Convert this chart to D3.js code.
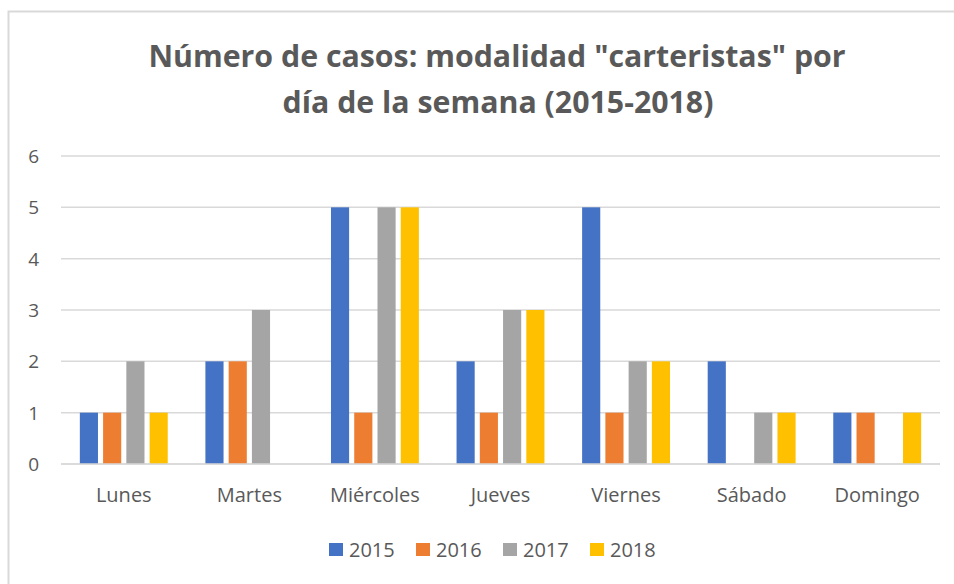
<!DOCTYPE html>
<html>
<head>
<meta charset="utf-8">
<script src="https://cdn.jsdelivr.net/npm/d3@7"></script>
<style>
  body { margin: 0; background: #fff; }
  text { font-family: "Open Sans", sans-serif; fill: #595959; }
</style>
</head>
<body>
<div id="chart"></div>
<script>
var days = ["Lunes", "Martes", "Miércoles", "Jueves", "Viernes", "Sábado", "Domingo"];
var years = ["2015", "2016", "2017", "2018"];
var v2015 = [1, 2, 5, 2, 5, 2, 1];
var v2016 = [1, 2, 1, 1, 1, 0, 1];
var v2017 = [2, 3, 5, 3, 2, 1, 0];
var v2018 = [1, 0, 5, 3, 2, 1, 1];
var yTicks = [0, 1, 2, 3, 4, 5, 6];
var colors = ["#4472C4", "#ED7D31", "#A5A5A5", "#FFC000"];

var series = [v2015, v2016, v2017, v2018];

var width = 954, height = 584;
var margin = { top: 156, right: 14, bottom: 120, left: 61 };

var svg = d3.select("#chart").append("svg")
  .attr("width", width)
  .attr("height", height);

// chart frame
svg.append("rect")
  .attr("x", 8.5).attr("y", 11.5)
  .attr("width", 960).attr("height", 600)
  .attr("fill", "#fff")
  .attr("stroke", "#d9d9d9")
  .attr("stroke-width", 2);

// title, two lines
var title = svg.append("text")
  .attr("text-anchor", "middle")
  .attr("font-size", 30.3)
  .attr("font-weight", 700);
title.append("tspan").attr("x", 497).attr("y", 67)
  .text('Número de casos: modalidad "carteristas" por');
title.append("tspan").attr("x", 498).attr("y", 113)
  .text("día de la semana (2015-2018)");

var x0 = d3.scaleBand()
  .domain(days)
  .range([margin.left, width - margin.right])
  .paddingInner(0.3)
  .paddingOuter(0.15);

var x1 = d3.scaleBand()
  .domain(years)
  .range([0, x0.bandwidth()])
  .paddingInner(0.22);

var y = d3.scaleLinear()
  .domain([0, 6])
  .range([height - margin.bottom, margin.top]);

// gridlines
svg.append("g")
  .selectAll("line")
  .data(yTicks)
  .join("line")
  .attr("x1", margin.left).attr("x2", width - margin.right)
  .attr("y1", function (d) { return y(d); })
  .attr("y2", function (d) { return y(d); })
  .attr("stroke", "#d9d9d9")
  .attr("stroke-width", 1.5);

// y labels
svg.append("g")
  .selectAll("text")
  .data(yTicks)
  .join("text")
  .attr("x", 39)
  .attr("y", function (d) { return y(d) + 7; })
  .attr("text-anchor", "end")
  .attr("font-size", 19)
  .text(function (d) { return d; });

// bars
var groups = svg.append("g")
  .selectAll("g")
  .data(days)
  .join("g")
  .attr("transform", function (d) { return "translate(" + x0(d) + ",0)"; });

groups.selectAll("rect")
  .data(function (d, i) {
    return years.map(function (yr, j) { return { year: yr, value: series[j][i], c: colors[j] }; });
  })
  .join("rect")
  .attr("x", function (d) { return x1(d.year); })
  .attr("y", function (d) { return y(d.value); })
  .attr("width", x1.bandwidth())
  .attr("height", function (d) { return y(0) - y(d.value); })
  .attr("fill", function (d) { return d.c; });

// baseline on top
svg.append("line")
  .attr("x1", margin.left).attr("x2", width - margin.right)
  .attr("y1", y(0)).attr("y2", y(0))
  .attr("stroke", "#d9d9d9")
  .attr("stroke-width", 1.5);

// category labels
svg.append("g")
  .selectAll("text")
  .data(days)
  .join("text")
  .attr("x", function (d) { return x0(d) + x0.bandwidth() / 2; })
  .attr("y", 502)
  .attr("text-anchor", "middle")
  .attr("font-size", 20)
  .text(function (d) { return d; });

// legend
var legendX = [329, 416, 503, 590];
var legend = svg.append("g")
  .selectAll("g")
  .data(years)
  .join("g")
  .attr("transform", function (d, i) { return "translate(" + legendX[i] + ",543)"; });

legend.append("rect")
  .attr("width", 14).attr("height", 13)
  .attr("fill", function (d, i) { return colors[i]; });

legend.append("text")
  .attr("x", 20).attr("y", 14)
  .attr("font-size", 20)
  .text(function (d) { return d; });
</script>
</body>
</html>
